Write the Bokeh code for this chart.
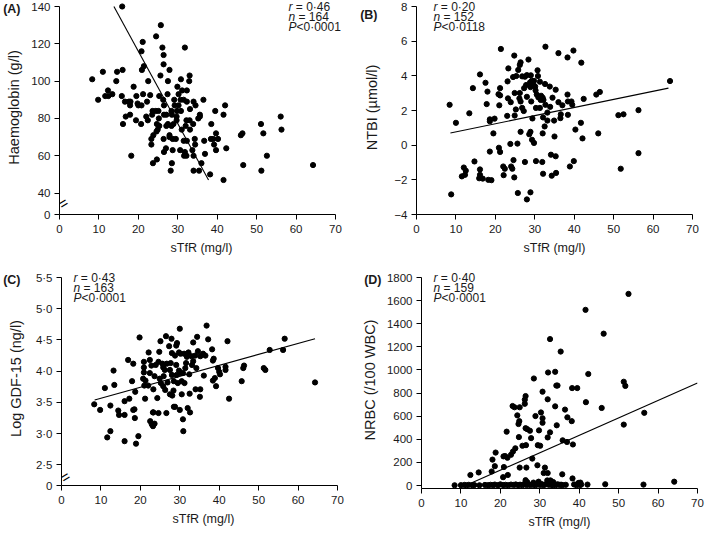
from bokeh.plotting import figure
from bokeh.layouts import column, row
from bokeh.models import Label, FixedTicker, Range1d, LinearAxis
from bokeh.embed import file_html
from bokeh.resources import INLINE

FONT = "Liberation Sans"
X_TICKS = [0, 10, 20, 30, 40, 50, 60, 70]

# ---------------- Panel A: Haemoglobin vs sTfR ----------------
a_x = [15.9, 25.7, 24.5, 21.1, 31.8, 26.1, 20.8, 26.4, 26.4, 21.4, 20.9, 27.9, 16.0, 11.0, 14.6,
       25.6, 33.0, 8.3, 30.8, 22.5, 14.4, 27.5, 32.9, 9.8, 18.8, 29.9, 12.3, 31.1, 32.3, 13.4,
       11.6, 12.4, 21.2, 30.2, 15.8, 23.0, 19.5, 25.3, 27.4, 36.5, 16.6, 17.6, 22.2, 26.3, 29.1,
       30.7, 31.5, 32.3, 34.0, 34.5, 17.9, 19.8, 20.0, 20.8, 42.0, 29.2, 30.2, 26.5, 39.5, 23.6,
       24.4, 25.1, 28.4, 29.8, 30.8, 33.1, 35.6, 41.6, 23.5, 22.0, 26.5, 27.1, 28.5, 17.9, 16.8,
       16.1, 19.4, 20.7, 56.1, 56.3, 51.1, 51.7, 46.0, 46.4, 39.7, 38.5, 35.6, 35.2, 32.2, 33.0,
       32.0, 33.9, 29.7, 29.7, 25.2, 22.4, 24.7, 27.1, 27.5, 28.4, 28.9, 25.3, 24.9, 31.0, 33.1,
       24.6, 23.8, 27.9, 23.3, 28.7, 29.5, 26.4, 34.3, 38.4, 39.0, 40.2, 36.7, 27.9, 31.5, 32.3,
       23.3, 34.4, 39.2, 39.7, 42.3, 27.0, 28.7, 30.6, 33.7, 18.2, 26.5, 31.8, 31.6, 32.2, 34.0,
       36.9, 52.6, 24.7, 23.7, 28.5, 36.0, 46.6, 64.3, 28.2, 34.0, 35.4, 51.2, 38.2, 41.6, 18.0]
a_y = [140, 130, 124, 121, 118, 118, 116, 114, 109, 108, 106, 106, 106, 105, 105,
       103, 103, 101, 101, 100, 100, 100, 100, 90, 97, 97, 95, 95, 95, 93,
       92, 92, 93, 93, 92, 92.5, 92, 92, 93, 90, 89, 89, 89, 90, 90,
       90, 90, 89, 89, 87, 87, 88, 87, 87, 87, 87, 87, 87, 84, 84,
       84, 84, 84, 84, 84, 85, 82, 82, 82, 81, 82, 82, 82, 82, 81,
       77, 79, 77, 81, 74, 77, 72, 71, 72, 72, 77, 81, 80, 79, 79,
       76, 77, 81, 79, 80, 79, 77, 76, 77, 76, 77, 76, 74, 74, 74,
       73, 71, 71, 69, 69, 69, 69, 69, 69, 69, 69, 68, 70, 68, 68,
       66, 66, 66, 63, 64, 64, 63, 63, 63, 60, 62, 62, 60, 60, 60,
       61, 60, 58, 56, 56, 56, 55, 55, 52, 52, 52, 52, 50, 47, 89]
a_fit_x = [13.8, 37.8]
a_fit_y = [140, 47]

# ---------------- Panel B: NTBI vs sTfR ----------------
b_x = [8.4, 10.0, 8.8, 13.4, 14.3, 14.7, 16.1, 17.5, 17.8, 18.0, 18.6, 18.6, 19.8, 19.5, 18.6,
       21.4, 20.8, 21.2, 21.2, 21.0, 20.9, 21.2, 23.3, 23.1, 23.2, 23.0, 23.9, 24.8, 24.5, 25.3,
       24.9, 25.2, 24.9, 23.8, 25.6, 25.8, 26.4, 26.2, 26.2, 26.1, 26.4, 26.8, 26.4, 26.8, 27.5,
       27.3, 27.8, 28.0, 28.0, 27.2, 28.4, 28.8, 28.9, 29.0, 29.2, 29.7, 29.8, 30.1, 30.2, 29.1,
       29.4, 28.9, 28.6, 29.3, 29.8, 30.7, 30.8, 30.5, 30.9, 31.6, 30.3, 31.3, 31.5, 31.3, 32.0,
       32.2, 32.7, 32.1, 32.5, 32.0, 32.7, 32.6, 33.2, 33.2, 33.8, 33.9, 34.5, 34.9, 35.3, 35.0,
       36.0, 36.0, 36.6, 36.5, 37.0, 38.3, 38.3, 38.4, 38.4, 39.3, 39.5, 39.8, 40.3, 41.8, 41.7,
       42.1, 42.4, 45.6, 46.5, 46.1, 51.2, 52.5, 51.8, 56.3, 56.3, 64.3, 12.0, 12.5, 11.5, 12.3,
       16.1, 15.9, 16.1, 16.8, 18.2, 19.0, 22.0, 22.4, 22.1, 24.0, 24.3, 24.6, 24.8, 25.7, 27.5,
       28.9, 28.0, 30.3, 31.9, 32.1, 34.3, 35.4, 34.1, 35.3, 38.9, 39.9]
b_y = [2.33, 1.29, -2.84, 1.84, 3.29, -0.94, 4.08, 3.60, 2.37, 3.09, 1.49, 1.38, 1.53, 0.68, -0.37,
       5.55, 2.94, 3.29, 2.87, 2.30, -0.15, -0.39, 4.43, 3.68, 2.70, 1.69, 2.48, 5.17, 3.93, 3.99,
       3.01, 2.06, 1.71, 0.07, 0.09, 4.34, 4.78, 4.63, 3.01, 2.70, 2.52, 2.15, 0.77, 3.97, 3.95,
       3.29, 3.47, 4.04, 2.79, 1.97, 4.94, 3.62, 3.35, 4.03, 3.71, 3.47, 3.71, 3.38, 3.16, 2.52,
       1.54, 0.77, 0.63, 0.31, 0.13, 4.32, 3.99, 2.92, 2.76, 2.85, 2.15, 2.15, 2.61, 3.66, 2.74,
       2.61, 2.33, 1.60, 1.08, 0.68, 5.68, 3.53, 1.88, 1.42, 3.38, 2.21, 2.74, 1.42, 3.20, 0.50,
       5.31, 2.48, 1.78, 1.56, 2.30, 5.06, 2.92, 2.52, 1.75, 2.52, 2.33, 5.46, 0.90, 4.76, 1.29,
       0.39, 2.67, 2.92, 3.07, 0.68, 1.73, 1.78, -1.36, 2.02, -0.46, 3.70, -1.29, -1.47, -1.80, -1.71,
       -1.71, -1.91, -1.40, -1.93, -2.00, -2.02, -1.23, -1.36, -1.73, -1.23, -1.36, -0.86, -1.86, -2.76, -0.97,
       -2.72, -3.13, -0.92, -0.97, -1.65, -1.76, -1.60, -0.55, -0.64, -1.23, -0.92]
b_fit_x = [8.6, 63.9]
b_fit_y = [0.70, 3.29]

# ---------------- Panel C: Log GDF-15 vs sTfR ----------------
c_x = [8.3, 9.8, 11.0, 11.6, 12.4, 12.4, 13.2, 13.4, 14.4, 14.6, 16.0, 16.0, 16.0, 16.9, 17.2,
       17.9, 18.2, 18.2, 18.7, 18.5, 18.6, 18.9, 19.5, 19.8, 20.7, 20.9, 20.9, 20.9, 21.0, 21.3,
       21.2, 22.0, 22.1, 22.4, 22.4, 22.8, 22.5, 22.9, 23.2, 23.2, 23.6, 23.3, 23.3, 23.6, 23.9,
       24.3, 24.6, 24.6, 24.8, 25.1, 24.9, 25.2, 25.6, 25.8, 25.8, 25.9, 26.2, 26.3, 26.5, 26.6,
       26.7, 26.9, 27.3, 27.5, 27.5, 27.7, 27.9, 28.0, 28.0, 28.1, 28.4, 28.5, 28.8, 28.5, 28.8,
       29.1, 29.1, 29.2, 29.3, 29.5, 29.8, 29.8, 30.0, 30.0, 30.2, 30.2, 30.5, 30.5, 30.8, 30.8,
       30.9, 31.1, 31.2, 31.4, 31.6, 31.8, 32.0, 32.2, 32.4, 32.5, 32.6, 33.0, 33.1, 33.4, 33.4,
       33.9, 34.0, 34.2, 34.4, 34.6, 35.2, 35.2, 35.1, 35.9, 36.1, 36.5, 36.8, 37.2, 38.2, 38.4,
       38.6, 38.4, 38.9, 39.2, 39.7, 40.0, 40.2, 41.6, 41.6, 42.1, 42.5, 45.7, 46.1, 46.3, 51.3,
       51.7, 52.8, 56.2, 56.6, 64.3]
c_y = [3.47, 3.38, 3.73, 2.94, 3.04, 3.45, 4.01, 3.78, 3.37, 3.30, 3.30, 2.88, 3.52, 4.18, 3.56,
       3.84, 4.12, 3.38, 3.67, 3.39, 3.25, 2.84, 2.96, 4.54, 3.88, 4.15, 4.06, 3.98, 3.77, 3.85,
       3.56, 3.77, 4.30, 4.18, 3.97, 4.09, 3.20, 3.15, 3.34, 3.12, 3.16, 3.71, 3.34, 3.92, 4.10,
       3.57, 3.33, 4.15, 4.31, 4.48, 3.88, 3.81, 4.12, 3.76, 4.06, 3.92, 4.02, 3.70, 4.56, 3.33,
       4.12, 3.82, 4.40, 4.02, 3.63, 4.13, 4.52, 3.94, 4.29, 3.61, 3.69, 3.84, 4.25, 3.43, 3.43,
       4.41, 4.10, 3.94, 4.45, 3.81, 4.01, 4.30, 4.68, 3.38, 3.97, 4.28, 3.63, 3.84, 3.97, 3.23,
       3.04, 4.28, 3.81, 4.05, 4.13, 4.23, 3.41, 4.30, 3.95, 3.64, 3.34, 4.24, 4.10, 4.16, 4.46,
       4.25, 3.71, 4.05, 4.55, 4.32, 4.24, 3.71, 3.59, 4.28, 3.93, 4.25, 4.73, 4.51, 4.35, 4.17,
       4.20, 3.85, 3.89, 3.76, 4.05, 3.99, 3.95, 4.07, 4.02, 4.48, 3.56, 3.84, 4.05, 4.09, 4.05,
       4.02, 4.34, 4.34, 4.52, 3.82]
c_fit_x = [8.4, 64.3]
c_fit_y = [3.54, 4.52]

# ---------------- Panel D: NRBC vs sTfR ----------------
d_x = [52.5, 41.6, 46.2, 32.6, 35.3, 28.5, 32.1, 33.9, 42.3, 34.2, 34.5, 38.2, 39.5, 51.3, 51.7,
       30.7, 32.0, 33.9, 41.7, 45.7, 36.4, 30.3, 28.9, 30.7, 30.7, 37.0, 38.1, 34.3, 51.3, 56.5,
       32.6, 32.0, 29.8, 27.5, 26.4, 26.2, 26.2, 23.1, 23.6, 24.9, 24.6, 24.8, 24.3, 26.4, 26.8,
       24.7, 21.6, 35.8, 36.9, 38.4, 27.8, 26.5, 25.6, 29.5, 30.1, 23.8, 28.1, 23.2, 18.8, 20.8,
       21.2, 21.8, 22.7, 18.0, 18.6, 20.9, 26.6, 24.9, 29.4, 31.3, 17.8, 21.9, 14.5, 12.4, 20.7,
       35.7, 38.3, 31.0, 32.0, 64.1, 56.3, 46.6, 42.1, 26.4, 26.8,
       8.4, 10.0, 10.9, 11.4, 12.0, 12.9, 13.4, 14.7, 16.1, 16.9, 17.5, 18.2, 18.6, 19.4, 20.0,
       20.7, 21.3, 22.0, 22.7, 23.4, 23.9, 24.5, 25.0, 25.6, 26.0, 26.6, 27.0, 27.6, 28.1, 28.4,
       28.9, 29.5, 30.1, 30.5, 30.9, 31.3, 31.8, 32.3, 32.7, 33.1, 33.5, 34.0, 34.5, 35.0, 35.4,
       35.8, 36.6, 38.7, 39.3, 39.8, 40.2, 40.5,
       29.7, 31.9, 32.7, 33.4, 28.4, 39.8, 40.3]
d_y = [1658, 1520, 1314, 1267, 1159, 926, 978, 984, 965, 865, 865, 843, 843, 898, 862,
       812, 746, 685, 721, 671, 657, 632, 601, 582, 543, 590, 557, 521, 527, 629,
       460, 416, 477, 474, 774, 743, 707, 688, 677, 677, 532, 557, 607, 496, 488,
       419, 466, 391, 377, 355, 410, 349, 344, 349, 344, 322, 233, 294, 285, 252,
       255, 240, 266, 224, 167, 160, 155, 155, 175, 155, 121, 91, 113, 91, 72,
       97, 61, 108, 108, 33, 8, 11, 8, 46, 30,
       2, 3, 5, 2, 6, 3, 4, 2, 5, 3, 6, 4, 8, 3, 10,
       4, 6, 3, 8, 5, 9, 4, 7, 3, 12, 5, 8, 4, 10, 6,
       3, 9, 5, 12, 4, 7, 15, 6, 10, 4, 8, 3, 11, 5, 7,
       4, 6, 9, 3, 12, 5, 8,
       33, 44, 44, 30, 25, 22, 25]
d_fit_x = [11.2, 70]
d_fit_y = [0, 886]

# ---------------- layout constants ----------------
AX_W = 276        # length of the drawn x axis (0..70) in px
AX_H = 208        # length of the drawn y axis in px
PAD_T = 6         # frame room above the top tick (for the stats text)
TXT = "#1a1a1a"


def make_panel(xs, ys, fx, fy, y_bottom, y_top, y_ticks, overrides, y_label,
               pad_r, pad_b, b_left, b_right, b_bottom, ylab_standoff):
    ux = AX_W / 70.0
    uy = AX_H / float(y_top - y_bottom)
    x_range = Range1d(0, 70 + pad_r / ux)
    y_range = Range1d(y_bottom - pad_b / uy, y_top + PAD_T / uy)
    p = figure(frame_width=int(AX_W + pad_r), frame_height=int(AX_H + PAD_T + pad_b),
               x_range=x_range, y_range=y_range,
               output_backend="svg", toolbar_location=None,
               min_border_left=b_left, min_border_right=b_right,
               min_border_top=0, min_border_bottom=b_bottom)
    p.outline_line_color = None
    p.xgrid.visible = False
    p.ygrid.visible = False
    p.background_fill_color = "white"
    p.border_fill_color = "white"

    p.scatter(xs, ys, size=5.2, color="black", line_color="black")
    p.line(fx, fy, line_color="black", line_width=1.1)

    for ax in (p.xaxis[0], p.yaxis[0]):
        ax.axis_line_color = "black"
        ax.axis_line_width = 1
        ax.major_tick_line_color = "black"
        ax.major_tick_in = 0
        ax.major_tick_out = 5
        ax.minor_tick_line_color = None
        ax.major_label_text_font = FONT
        ax.major_label_text_font_size = "11.5px"
        ax.major_label_text_color = TXT
        ax.axis_label_text_font = FONT
        ax.axis_label_text_font_style = "normal"
        ax.axis_label_text_color = TXT

    xa = p.xaxis[0]
    xa.ticker = FixedTicker(ticks=X_TICKS)
    xa.bounds = (0, 70)
    xa.axis_label = "sTfR (mg/l)"
    xa.axis_label_text_font_size = "12.5px"
    xa.major_label_standoff = 5
    xa.axis_label_standoff = 5

    ya = p.yaxis[0]
    ya.ticker = FixedTicker(ticks=y_ticks)
    ya.bounds = (y_bottom - pad_b / uy, y_top)
    ya.major_label_overrides = overrides
    ya.axis_label = y_label
    ya.axis_label_text_font_size = "14.5px"
    ya.major_label_standoff = 4
    ya.axis_label_standoff = ylab_standoff
    return p


def stats(p, y0, dx, r_val, n_val, p_val):
    items = [("r", 4.0 + 3.3, "= " + r_val), ("n", 6.7 + 3.3, "= " + n_val), ("P", 8.0, p_val)]
    for i, (ch, w, rest) in enumerate(items):
        yo = -10.2 * i
        p.add_layout(Label(x=0, y=y0, x_offset=dx, y_offset=yo, text=ch,
                           text_font=FONT, text_font_style="italic",
                           text_font_size="12px", text_color=TXT,
                           text_align="left", text_baseline="middle"))
        p.add_layout(Label(x=0, y=y0, x_offset=dx + w, y_offset=yo, text=rest,
                           text_font=FONT, text_font_size="12px", text_color=TXT,
                           text_align="left", text_baseline="middle"))


def tag(p, y_at, text, standoff):
    ax = LinearAxis(ticker=FixedTicker(ticks=[y_at]), major_label_overrides={y_at: text},
                    axis_line_color=None, major_tick_line_color=None,
                    minor_tick_line_color=None, major_tick_in=0, major_tick_out=0,
                    major_label_standoff=standoff, major_label_text_font=FONT,
                    major_label_text_font_style="bold", major_label_text_font_size="12.5px",
                    major_label_text_color=TXT)
    p.add_layout(ax, "left")


def add_break(p, y):
    p.add_layout(Label(x=0, y=y, x_offset=3.5, text="=", angle=0.55,
                       text_font=FONT, text_font_size="15px", text_color="black",
                       text_align="center", text_baseline="middle"))


# Panel A
a_ticks = [28.5, 40, 60, 80, 100, 120, 140]
pA = make_panel(a_x, a_y, a_fit_x, a_fit_y, 28.5, 140, a_ticks, {28.5: "0"},
                "Haemoglobin (g/l)", 8, 0, 51, 13, 57, 6)
stats(pA, 140, 229, "0·46", "164", "<0·0001")
tag(pA, 140, "(A)", -17)
add_break(pA, 34.6)

# Panel B
b_ticks = [-4, -2, 0, 2, 4, 6, 8]
pB = make_panel(b_x, b_y, b_fit_x, b_fit_y, -4, 8, b_ticks, {-4: "\u22124", -2: "\u22122"},
                "NTBI (µmol/l)", 0, 0, 60, 8, 57, 11)
stats(pB, 8, 17, "0·20", "152", "<0·0118")
tag(pB, 7.5, "(B)", -16)

# Panel C
c_bottom = 2.17
c_ticks = [c_bottom, 2.5, 3.0, 3.5, 4.0, 4.5, 5.0, 5.5]
c_over = {c_bottom: "0", 2.5: "2·5", 3.0: "3·0", 3.5: "3·5", 4.0: "4·0",
          4.5: "4·5", 5.0: "5·0", 5.5: "5·5"}
pC = make_panel(c_x, c_y, c_fit_x, c_fit_y, c_bottom, 5.5, c_ticks, c_over,
                "Log GDF-15 (ng/l)", 8, 0, 51, 13, 43, 9)
stats(pC, 5.5, 12, "0·43", "163", "<0·0001")
tag(pC, 5.5, "(C)", -16)
add_break(pC, 2.31)

# Panel D
d_ticks = [0, 200, 400, 600, 800, 1000, 1200, 1400, 1600, 1800]
pD = make_panel(d_x, d_y, d_fit_x, d_fit_y, 0, 1800, d_ticks, {},
                "NRBC (/100 WBC)", 0, 3, 60, 8, 40, 6)
stats(pD, 1800, 12, "0·40", "159", "<0·0001")
tag(pD, 1800, "(D)", -23)

layout = column(row(pA, pB), row(pC, pD))
open("out.html", "w").write(file_html(layout, INLINE))
